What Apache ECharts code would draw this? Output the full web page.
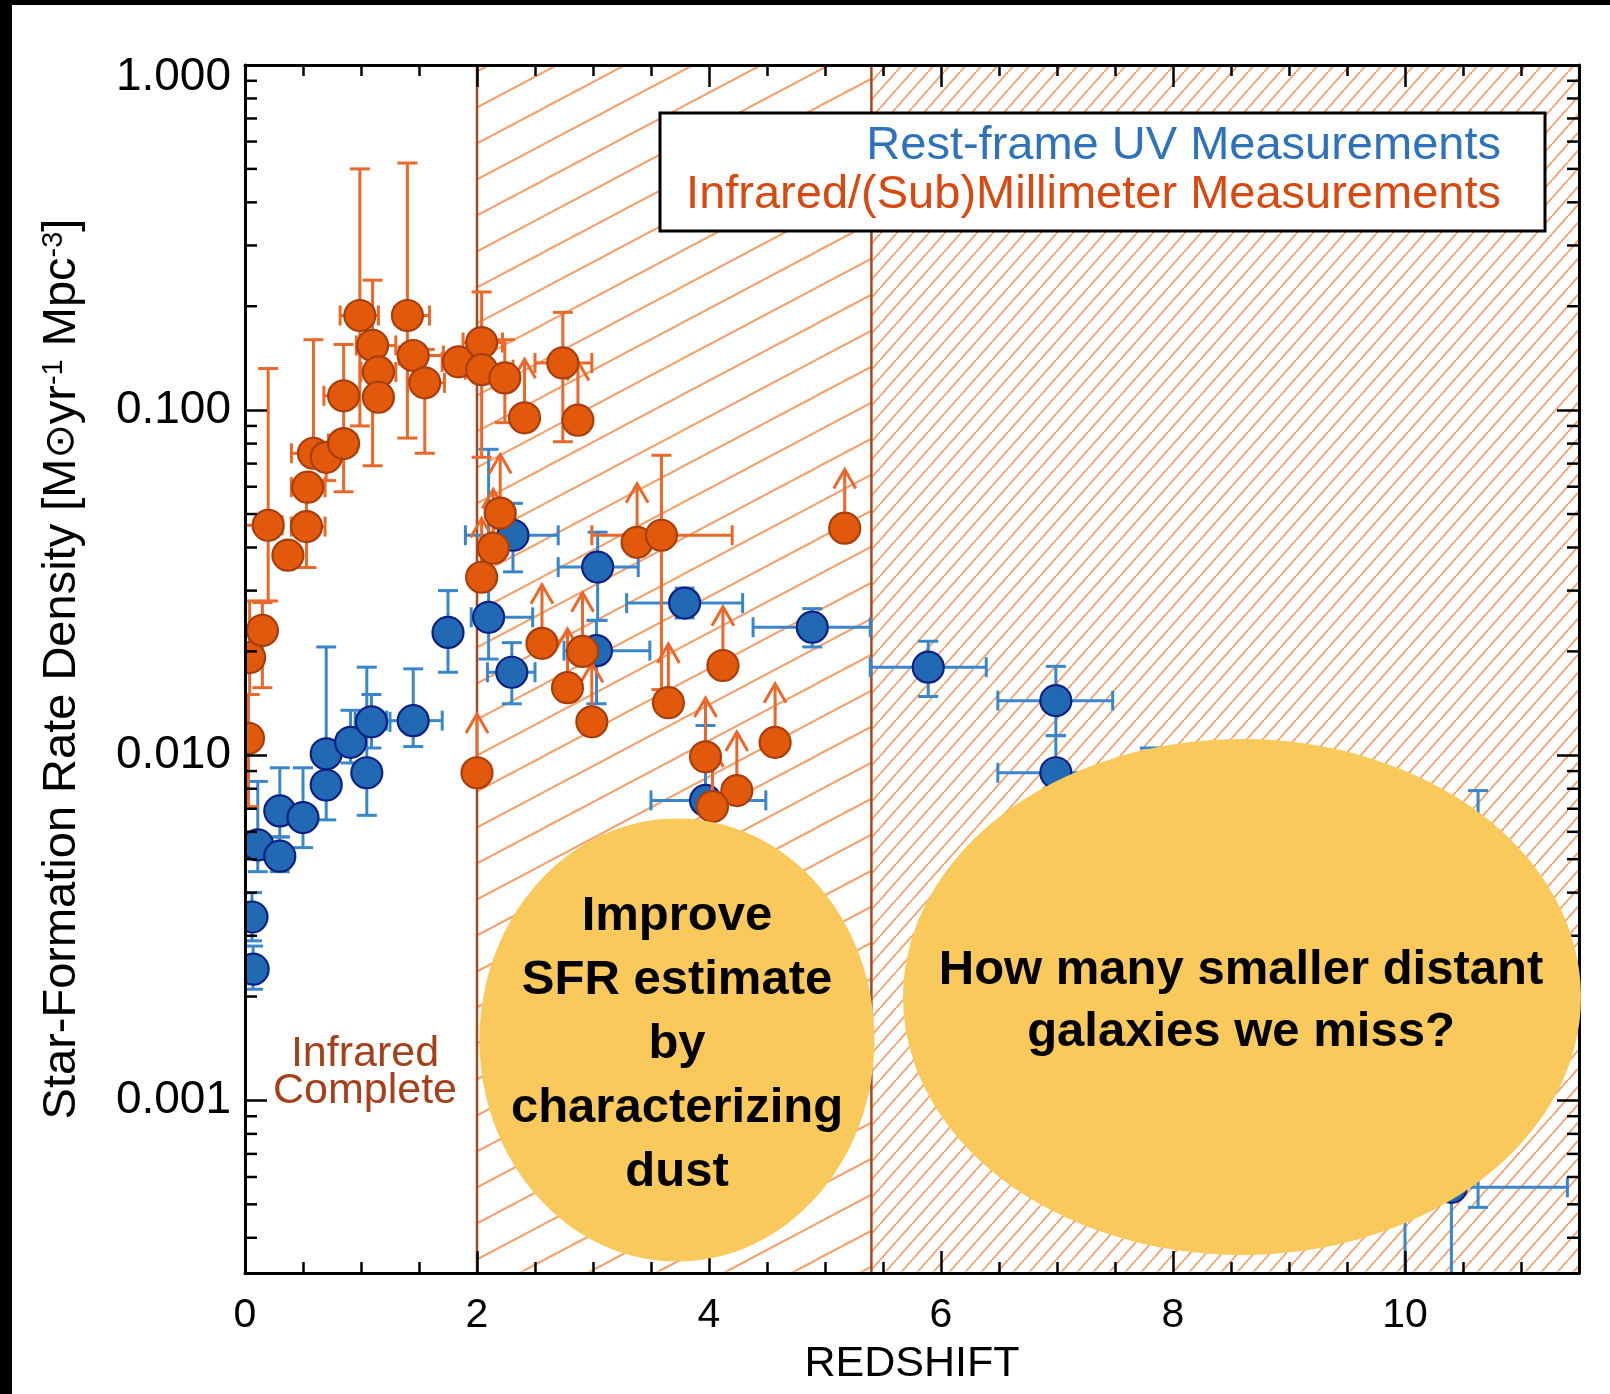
<!DOCTYPE html>
<html lang="en">
<head>
<meta charset="utf-8">
<title>Cosmic star-formation rate density</title>
<script src="https://cdn.jsdelivr.net/npm/echarts@6.0.0/dist/echarts.min.js"></script>
<style>
  html, body { margin: 0; padding: 0; background: #fff; }
  #chart { width: 1610px; height: 1394px; }
</style>
</head>
<body>
<div id="chart"></div>
<script>
// ---------------- Rest-frame UV measurements ----------------
const uvZ     = [0.06, 0.07, 0.11, 0.30, 0.30, 0.50, 0.70, 0.70, 0.91, 1.05, 1.09, 1.45, 1.75, 2.10, 2.30, 2.31, 3.04, 3.03, 3.79, 3.97, 4.89, 5.89, 6.99, 6.99, 7.80, 10.00, 10.40, 10.63];
const uvSFR   = [0.0034, 0.0024, 0.0055, 0.0069, 0.0051, 0.0066, 0.0082, 0.0101, 0.0109, 0.0089, 0.0125, 0.0126, 0.0227, 0.0251, 0.0174, 0.0434, 0.0351, 0.0201, 0.0276, 0.0074, 0.0235, 0.0180, 0.0144, 0.0089, 0.0060, 0.0010, 0.00056, 0.0020];
const uvZLo   = [null, null, null, null, null, null, null, null, 0.80, null, 0.95, 1.22, null, 1.95, 2.09, 1.90, 2.70, 2.75, 3.29, 3.50, 4.38, 5.39, 6.49, 6.49, 7.30, 9.50, 9.90, 10.20];
const uvZHi   = [null, null, null, null, null, null, null, null, 1.00, null, 1.25, 1.70, null, 2.48, 2.50, 2.70, 3.39, 3.49, 4.29, 4.49, 5.39, 6.39, 7.48, 7.48, 8.30, 10.50, 11.40, 11.00];
const uvSFRLo = [0.0029, 0.0021, 0.0046, 0.0058, 0.0046, 0.0054, 0.0065, 0.0082, 0.0095, 0.0067, 0.0105, 0.0106, 0.0174, 0.0190, 0.0141, 0.0340, 0.0246, 0.0141, 0.0250, 0.0058, 0.0206, 0.0148, 0.0114, 0.0070, 0.0035, 0.0001, 0.0001, 0.00049];
const uvSFRHi = [0.0040, 0.0028, 0.0084, 0.0092, 0.0058, 0.0092, 0.0101, 0.0206, 0.0135, 0.0180, 0.0150, 0.0178, 0.0300, 0.0770, 0.0212, 0.0537, 0.0443, 0.0246, 0.0305, 0.0122, 0.0266, 0.0214, 0.0181, 0.0114, 0.0105, 0.0020, 0.0010, 0.0079];

// ---------------- Infrared / (sub)millimeter measurements ----------------
const irZ     = [0.03, 0.04, 0.15, 0.20, 0.37, 0.53, 0.54, 0.59, 0.70, 0.85, 0.85, 0.99, 1.10, 1.15, 1.15, 1.40, 1.45, 1.55, 1.84, 2.04, 2.04, 2.24, 2.41, 2.74, 2.87, 2.20, 2.14, 2.04, 2.00, 2.56, 2.78, 2.91, 2.99, 3.38, 3.59, 3.65, 4.12, 3.97, 4.57, 4.24, 4.03, 5.17];
const irSFR   = [0.0112, 0.0192, 0.0230, 0.0464, 0.0380, 0.0460, 0.0598, 0.0750, 0.0730, 0.0800, 0.1100, 0.1880, 0.1540, 0.1290, 0.1090, 0.1880, 0.1440, 0.1200, 0.1380, 0.1570, 0.1310, 0.1240, 0.0950, 0.1370, 0.0935, 0.0503, 0.0398, 0.0328, 0.0089, 0.0211, 0.0157, 0.0200, 0.0125, 0.0414, 0.0434, 0.0142, 0.0182, 0.0099, 0.0109, 0.0079, 0.0071, 0.0455];
const irZLo   = [null, null, 0.06, 0.00, null, 0.40, 0.40, 0.40, null, 0.72, 0.68, 0.82, 0.96, 1.00, null, 1.29, 1.33, 1.40, 1.70, 1.88, 1.90, null, null, 2.50, null, null, null, null, null, null, null, null, null, null, 2.99, null, null, null, null, null, null, null];
const irZHi   = [null, null, 0.24, 0.32, null, 0.69, 0.69, 0.69, null, 0.96, 0.96, 1.15, 1.30, 1.30, null, 1.59, 1.71, 1.72, 2.00, 2.22, 2.31, null, null, 2.99, null, null, null, null, null, null, null, null, null, null, 4.20, null, null, null, null, null, null, null];
const irSFRLo = [0.0071, 0.0150, 0.0157, 0.0280, null, 0.0350, null, null, 0.0625, 0.0580, null, 0.0900, 0.0690, null, null, 0.0830, null, 0.0750, null, 0.0730, null, 0.0920, null, 0.0810, null, null, null, null, null, null, null, null, null, null, 0.0155, null, null, null, null, null, null, null];
const irSFRHi = [0.0150, 0.0280, 0.0277, 0.1320, null, 0.0580, null, 0.1600, null, 0.1550, null, 0.5000, 0.2380, null, null, 0.5200, null, 0.1500, null, 0.2200, null, 0.1600, null, 0.1920, null, null, null, null, null, null, null, null, null, null, 0.0740, null, null, null, null, null, null, null];
// 1 = lower limit (drawn with an upward arrow)
const irLimit = [0, 0, 0, 0, 0, 0, 0, 0, 0, 0, 0, 0, 0, 0, 0, 0, 0, 0, 0, 0, 0, 0, 1, 0, 1, 1, 1, 1, 1, 1, 1, 1, 1, 1, 0, 1, 1, 1, 1, 1, 1, 1];

// ---------------- Redshift zones (hatched) ----------------
const zoneStart = [2.0, 5.4];
const zoneEnd   = [5.4, 11.5];

// ---------------- Axis ranges ----------------
const Z_MIN = 0, Z_MAX = 11.5, Z_STEP = 2;
const SFR_MIN = Math.pow(10, -3.5), SFR_MAX = 1;

const FONT = '"Liberation Sans", Arial, Helvetica, sans-serif';
const UV_FILL = '#2169b3', UV_EDGE = '#0d2086', UV_ERR = '#3a86cc';
const IR_FILL = '#e2590c', IR_EDGE = '#a83e0b', IR_ERR = '#ec672a';
const ZONE_LINE = '#a8461e';
const CAP = 10;                        // half-width of error-bar caps, px
const LIMIT_STEP = Math.pow(10, 0.17); // length of lower-limit arrows, in dex

// Diagonal hatch tile: lines y = nH - (H/W)x, seamless when repeated
function makeHatch(w, h, color, lw) {
  const c = document.createElement('canvas');
  c.width = w; c.height = h;
  const ctx = c.getContext('2d');
  ctx.strokeStyle = color;
  ctx.lineWidth = lw;
  for (let n = 0; n <= 2; n++) {
    ctx.beginPath();
    ctx.moveTo(0, n * h);
    ctx.lineTo(w, (n - 1) * h);
    ctx.stroke();
  }
  return { image: c, repeat: 'repeat' };
}
const zonePatterns = [
  makeHatch(68, 36, '#f4a06c', 2.0),
  makeHatch(16, 18, '#f4a06c', 1.8)
];

// log-axis minor ticks (2..9 x 10^k) inside the plotted range
const sfrMinorTicks = [];
for (let k = -4; k <= -1; k++) {
  for (let m = 2; m <= 9; m++) {
    const v = m * Math.pow(10, k);
    if (v > SFR_MIN && v < SFR_MAX) sfrMinorTicks.push(v);
  }
}

function rows(cols) {
  return cols[0].map((_, i) => cols.map(c => c[i]));
}

function errorBars(color, withLimits) {
  return function (params, api) {
    const z = api.value(0), v = api.value(1);
    const p = api.coord([z, v]);
    const st = { stroke: color, lineWidth: 3, fill: null, lineCap: 'butt' };
    const kids = [];
    const seg = (x1, y1, x2, y2) => kids.push({ type: 'line', shape: { x1, y1, x2, y2 }, style: st });
    const zlo = api.value(2), zhi = api.value(3), vlo = api.value(4), vhi = api.value(5);
    if (isFinite(zlo)) { const x = api.coord([zlo, v])[0]; seg(x, p[1], p[0], p[1]); seg(x, p[1] - CAP, x, p[1] + CAP); }
    if (isFinite(zhi)) { const x = api.coord([zhi, v])[0]; seg(p[0], p[1], x, p[1]); seg(x, p[1] - CAP, x, p[1] + CAP); }
    if (isFinite(vlo)) { const y = api.coord([z, vlo])[1]; seg(p[0], p[1], p[0], y); seg(p[0] - CAP, y, p[0] + CAP, y); }
    if (isFinite(vhi)) { const y = api.coord([z, vhi])[1]; seg(p[0], p[1], p[0], y); seg(p[0] - CAP, y, p[0] + CAP, y); }
    if (withLimits && api.value(6) === 1) {
      const y = api.coord([z, v * LIMIT_STEP])[1];
      seg(p[0], p[1], p[0], y);
      kids.push({ type: 'polyline', shape: { points: [[p[0] - 11, y + 19], [p[0], y], [p[0] + 11, y + 19]] }, style: st });
    }
    return { type: 'group', children: kids };
  };
}

function markers(fill, edge) {
  return function (params, api) {
    const p = api.coord([api.value(0), api.value(1)]);
    return { type: 'circle', shape: { cx: p[0], cy: p[1], r: 15.5 }, style: { fill: fill, stroke: edge, lineWidth: 2.2 } };
  };
}

const axisLineStyle = { color: '#000', width: 3 };
const tickStyle = { color: '#000', width: 2.5 };

function zLabel(v) {
  const r = Math.round(v);
  return (Math.abs(v - r) < 1e-9 && r % 2 === 0) ? String(r) : '';
}
function sfrLabel(v) {
  const e = Math.log10(v), r = Math.round(e);
  if (Math.abs(e - r) > 1e-6) return '';
  const s = Math.pow(10, r).toFixed(3);
  return r === 0 ? '{top|' + s + '}' : s;
}

const chart = echarts.init(document.getElementById('chart'), null, { renderer: 'canvas' });

const option = {
  animation: false,
  backgroundColor: '#fff',
  grid: { left: 245, right: 31, top: 65, bottom: 121, containLabel: false, outerBoundsMode: 'none' },
  xAxis: [
    {
      type: 'value', min: Z_MIN, max: Z_MAX, interval: Z_STEP, position: 'bottom', z: 50,
      name: 'REDSHIFT', nameLocation: 'middle', nameGap: 70,
      nameTextStyle: { fontFamily: FONT, fontSize: 43, color: '#000' },
      axisLine: { show: true, onZero: false, lineStyle: axisLineStyle },
      axisTick: { show: true, inside: true, length: 22, lineStyle: tickStyle },
      minorTick: { show: true, splitNumber: 4, length: 11, lineStyle: tickStyle },
      axisLabel: { show: true, margin: 22, fontFamily: FONT, fontSize: 41, color: '#000', formatter: zLabel },
      splitLine: { show: false }, minorSplitLine: { show: false }
    },
    {
      type: 'value', min: Z_MIN, max: Z_MAX, interval: Z_STEP, position: 'top', z: 50,
      axisLine: { show: true, onZero: false, lineStyle: axisLineStyle },
      axisTick: { show: true, inside: true, length: 22, lineStyle: tickStyle },
      minorTick: { show: true, splitNumber: 4, length: 11, lineStyle: tickStyle },
      axisLabel: { show: false },
      splitLine: { show: false }, minorSplitLine: { show: false }
    }
  ],
  yAxis: [
    {
      type: 'log', logBase: 10, min: SFR_MIN, max: SFR_MAX, position: 'left', z: 50,
      name: 'Star-Formation Rate Density [M{sun|⊙}yr{sup|-1} Mpc{sup|-3}]',
      nameLocation: 'middle', nameGap: 159, nameRotate: 90,
      nameTextStyle: {
        fontFamily: FONT, fontSize: 47, color: '#000',
        rich: {
          sun: { fontFamily: '"DejaVu Sans", sans-serif', fontSize: 41, color: '#000' },
          sup: { fontFamily: FONT, fontSize: 29, color: '#000', verticalAlign: 'top' }
        }
      },
      axisLine: { show: true, onZero: false, lineStyle: axisLineStyle },
      axisTick: { show: true, inside: true, length: 22, lineStyle: tickStyle },
      minorTick: { show: false },
      axisLabel: {
        show: true, margin: 14, fontFamily: FONT, fontSize: 46, color: '#000', formatter: sfrLabel,
        rich: { top: { fontFamily: FONT, fontSize: 46, color: '#000', padding: [24, 0, 0, 0] } }
      },
      splitLine: { show: false }, minorSplitLine: { show: false }
    },
    {
      type: 'log', logBase: 10, min: SFR_MIN, max: SFR_MAX, position: 'right', z: 50,
      axisLine: { show: true, onZero: false, lineStyle: axisLineStyle },
      axisTick: { show: true, inside: true, length: 22, lineStyle: tickStyle },
      minorTick: { show: false },
      axisLabel: { show: false },
      splitLine: { show: false }, minorSplitLine: { show: false }
    }
  ],
  series: [
    {
      // hatched redshift zones and their boundaries
      type: 'custom', name: 'zones', z: 1, silent: true, clip: false,
      data: zoneStart.map((s, i) => [s, SFR_MAX, zoneEnd[i], i]),
      encode: { x: 0, y: 1 },
      renderItem: function (params, api) {
        const cs = params.coordSys;
        const x0 = api.coord([api.value(0), SFR_MAX])[0];
        const x1 = api.coord([api.value(2), SFR_MAX])[0];
        return {
          type: 'group',
          children: [
            { type: 'rect', shape: { x: x0, y: cs.y + 1.5, width: x1 - x0, height: cs.height - 3 }, style: { fill: zonePatterns[api.value(3)] } },
            { type: 'line', shape: { x1: x0, y1: cs.y, x2: x0, y2: cs.y + cs.height }, style: { stroke: ZONE_LINE, lineWidth: 2.5 } }
          ]
        };
      }
    },
    {
      // minor ticks of the logarithmic SFR axis, on both sides of the frame
      type: 'custom', name: 'sfrMinorTicks', z: 50, silent: true, clip: false,
      data: sfrMinorTicks.map(v => [Z_MIN, v]),
      encode: { x: 0, y: 1 },
      renderItem: function (params, api) {
        const cs = params.coordSys;
        const y = api.coord([Z_MIN, api.value(1)])[1];
        const st = { stroke: '#000', lineWidth: 2.5 };
        return {
          type: 'group',
          children: [
            { type: 'line', shape: { x1: cs.x, y1: y, x2: cs.x + 12, y2: y }, style: st },
            { type: 'line', shape: { x1: cs.x + cs.width - 12, y1: y, x2: cs.x + cs.width, y2: y }, style: st }
          ]
        };
      }
    },
    {
      type: 'custom', name: 'UV errors', z: 3, silent: true, clip: true,
      data: rows([uvZ, uvSFR, uvZLo, uvZHi, uvSFRLo, uvSFRHi]),
      encode: { x: 0, y: 1 },
      renderItem: errorBars(UV_ERR, false)
    },
    {
      type: 'custom', name: 'Rest-frame UV Measurements', z: 4, silent: true, clip: true,
      data: rows([uvZ, uvSFR]),
      encode: { x: 0, y: 1 },
      renderItem: markers(UV_FILL, UV_EDGE)
    },
    {
      type: 'custom', name: 'IR errors', z: 5, silent: true, clip: true,
      data: rows([irZ, irSFR, irZLo, irZHi, irSFRLo, irSFRHi, irLimit]),
      encode: { x: 0, y: 1 },
      renderItem: errorBars(IR_ERR, true)
    },
    {
      type: 'custom', name: 'Infrared/(Sub)Millimeter Measurements', z: 6, silent: true, clip: true,
      data: rows([irZ, irSFR]),
      encode: { x: 0, y: 1 },
      renderItem: markers(IR_FILL, IR_EDGE)
    }
  ],
  graphic: [
    // frame edges
    { type: 'rect', shape: { x: 0, y: 0, width: 1610, height: 5 }, style: { fill: '#000' }, z: 200, silent: true },
    { type: 'rect', shape: { x: 0, y: 0, width: 12, height: 1394 }, style: { fill: '#000' }, z: 200, silent: true },
    // legend box
    { type: 'rect', shape: { x: 660, y: 113, width: 885, height: 118 }, style: { fill: '#fff', stroke: '#000', lineWidth: 3 }, z: 100, silent: true },
    { type: 'text', x: 1501, y: 146, z: 101, silent: true,
      style: { text: 'Rest-frame UV Measurements', fill: '#2e72bd', fontFamily: FONT, fontSize: 47, align: 'right', verticalAlign: 'middle' } },
    { type: 'text', x: 1501, y: 195, z: 101, silent: true,
      style: { text: 'Infrared/(Sub)Millimeter Measurements', fill: '#d9480f', fontFamily: FONT, fontSize: 47, align: 'right', verticalAlign: 'middle' } },
    // zone caption
    { type: 'text', x: 365, y: 1073, z: 101, silent: true,
      style: { text: 'Infrared\nComplete', fill: '#a5401a', fontFamily: FONT, fontSize: 43, lineHeight: 37, align: 'center', verticalAlign: 'middle' } },
    // callouts
    { type: 'circle', x: 677, y: 1040, scaleX: 197.5 / 221.5, shape: { cx: 0, cy: 0, r: 221.5 }, style: { fill: '#fac95c' }, z: 110, silent: true },
    { type: 'circle', x: 1242, y: 997, scaleX: 339 / 258, shape: { cx: 0, cy: 0, r: 258 }, style: { fill: '#fac95c' }, z: 110, silent: true },
    { type: 'text', x: 677, y: 1044, z: 111, silent: true,
      style: { text: 'Improve\nSFR estimate\nby\ncharacterizing\ndust', fill: '#000', fontFamily: FONT, fontWeight: 'bold', fontSize: 49, lineHeight: 64, align: 'center', verticalAlign: 'middle' } },
    { type: 'text', x: 1241, y: 1001, z: 111, silent: true,
      style: { text: 'How many smaller distant\ngalaxies we miss?', fill: '#000', fontFamily: FONT, fontWeight: 'bold', fontSize: 49, lineHeight: 62, align: 'center', verticalAlign: 'middle' } }
  ]
};

chart.setOption(option);
</script>
</body>
</html>
